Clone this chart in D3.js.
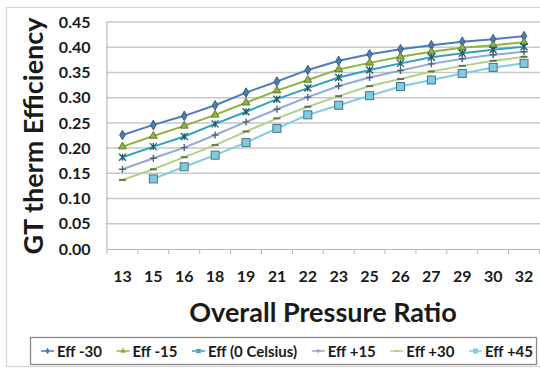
<!DOCTYPE html>
<html lang="en">
<head>
<meta charset="utf-8">
<title>GT therm Efficiency</title>
<script src="https://d3js.org/d3.v7.min.js"></script>
<style>
  body { margin: 0; background: #fff; }
  svg { font-family: Lato, "Open Sans", sans-serif; font-weight: bold; }
</style>
</head>
<body>
<div id="chart"></div>
<script>
// chart data
var ratios = ["13", "15", "16", "18", "19", "21", "22", "23", "25", "26", "27", "29", "30", "32"];
var yTicks = [0, 0.05, 0.10, 0.15, 0.20, 0.25, 0.30, 0.35, 0.40, 0.45];

var effM30 = [0.226, 0.246, 0.264, 0.285, 0.310, 0.332, 0.355, 0.373, 0.386, 0.396, 0.404, 0.411, 0.416, 0.422];
var effM15 = [0.203, 0.224, 0.244, 0.266, 0.290, 0.314, 0.335, 0.356, 0.369, 0.381, 0.391, 0.399, 0.404, 0.410];
var eff0   = [0.182, 0.203, 0.223, 0.248, 0.272, 0.297, 0.319, 0.340, 0.355, 0.368, 0.380, 0.388, 0.395, 0.401];
var effP15 = [0.158, 0.180, 0.201, 0.226, 0.252, 0.277, 0.301, 0.323, 0.340, 0.354, 0.367, 0.377, 0.385, 0.391];
var effP30 = [0.137, 0.158, 0.182, 0.206, 0.233, 0.259, 0.282, 0.303, 0.323, 0.337, 0.352, 0.363, 0.373, 0.381];
var effP45 = [null, 0.139, 0.163, 0.186, 0.211, 0.239, 0.266, 0.285, 0.304, 0.322, 0.335, 0.348, 0.360, 0.368];

var series = [
  {name: "Eff -30", values: effM30, color: "#4a7ebb", mark: "diamond"},
  {name: "Eff -15", values: effM15, color: "#8db43e", mark: "triangle"},
  {name: "Eff (0 Celsius)", values: eff0, color: "#31a2bd", mark: "star"},
  {name: "Eff +15", values: effP15, color: "#93a9dc", mark: "plus"},
  {name: "Eff +30", values: effP30, color: "#b0d287", mark: "dash"},
  {name: "Eff +45", values: effP45, color: "#7fcbe3", mark: "square"}
];

var W = 540, H = 370;
var svg = d3.select("#chart").append("svg").attr("width", W).attr("height", H);

// outer frame of the chart
svg.append("rect").attr("x", 6.5).attr("y", 7.5).attr("width", 545).attr("height", 359)
  .attr("fill", "#fff").attr("stroke", "#d4d4d4").attr("stroke-width", 1.2);

var x = d3.scaleBand().domain(ratios).range([107, 539.5]);
var y = d3.scaleLinear().domain([0, 0.45]).range([249, 22]);

// grid
svg.append("g").selectAll("line").data(yTicks.slice(1)).join("line")
  .attr("x1", 106).attr("x2", 540)
  .attr("y1", d => y(d)).attr("y2", d => y(d))
  .attr("stroke", "#c8c8c8").attr("stroke-width", 1.5);

// axes
var xAxis = d3.axisBottom(x).tickSize(0).tickPadding(22);
var gx = svg.append("g").attr("transform", "translate(0,249)").call(xAxis);
gx.select(".domain").attr("stroke", "#b8b8b8").attr("stroke-width", 1.2);
gx.selectAll("text").attr("font-size", 16).attr("font-family", "Lato").attr("font-weight", "bold").attr("fill", "#1a1a1a");
// tick marks sit between categories
gx.selectAll(".sep").data(ratios.concat(["end"])).join("line").attr("class", "sep")
  .attr("x1", (d, i) => x.range()[0] + i * x.step()).attr("x2", (d, i) => x.range()[0] + i * x.step())
  .attr("y1", 0).attr("y2", 5).attr("stroke", "#b8b8b8");

var yAxis = d3.axisLeft(y).tickValues(yTicks).tickFormat(d3.format(".2f")).tickSize(0).tickPadding(16);
var gy = svg.append("g").attr("transform", "translate(106.5,0)").call(yAxis);
gy.select(".domain").attr("stroke", "#b8b8b8").attr("stroke-width", 1.2);
gy.selectAll("text").attr("font-size", 16).attr("font-family", "Lato").attr("font-weight", "bold").attr("fill", "#1a1a1a");

// titles
svg.append("text").attr("x", 323).attr("y", 322).attr("text-anchor", "middle")
  .attr("font-size", 27).attr("fill", "#1a1a1a").text("Overall Pressure Ratio");
svg.append("text").attr("transform", "translate(43,136) rotate(-90)").attr("text-anchor", "middle")
  .attr("font-size", 27).attr("fill", "#1a1a1a").text("GT therm Efficiency");

// marker drawing
function drawMark(g, kind, color, s, legend) {
  var dark = legend ? color : d3.color(color).darker(1.6).formatHex();
  if (kind === "diamond") {
    g.append("path").attr("d", d3.symbol(d3.symbolDiamond, s * s * 0.55)())
      .attr("fill", color).attr("stroke", dark).attr("stroke-width", 0.8);
  } else if (kind === "triangle") {
    g.append("path").attr("d", d3.symbol(d3.symbolTriangle, s * s * 0.55)())
      .attr("fill", color).attr("stroke", dark).attr("stroke-width", 0.8);
  } else if (kind === "square") {
    g.append("rect").attr("x", -s / 2).attr("y", -s / 2).attr("width", s).attr("height", s)
      .attr("fill", color).attr("stroke", dark).attr("stroke-width", 1);
  } else if (kind === "plus") {
    var h = s / 2;
    g.append("path").attr("d", `M${-h},0H${h}M0,${-h}V${h}`).attr("stroke", dark).attr("stroke-width", 1.4);
  } else if (kind === "dash") {
    var h2 = s / 2;
    g.append("path").attr("d", `M${-h2},0H${h2}`).attr("stroke", dark).attr("stroke-width", 2);
  } else if (kind === "star") {
    var r = s / 2;
    g.append("path").attr("d", `M${-r},${-r}L${r},${r}M${-r},${r}L${r},${-r}M0,${-r}V${r}`)
      .attr("stroke", dark).attr("stroke-width", 1.3);
  }
}

var line = d3.line()
  .defined(d => d != null)
  .x((d, i) => x(ratios[i]) + x.bandwidth() / 2)
  .y(d => y(d));

series.forEach(function (s) {
  svg.append("path").datum(s.values).attr("d", line)
    .attr("fill", "none").attr("stroke", s.color).attr("stroke-width", 2);
});
series.forEach(function (s) {
  s.values.forEach(function (v, i) {
    if (v == null) return;
    var g = svg.append("g").attr("transform", `translate(${x(ratios[i]) + x.bandwidth() / 2},${y(v)})`);
    drawMark(g, s.mark, s.color, s.mark === "square" ? 8 : 7, false);
  });
});

// legend: items spread so the row runs from 41 to 533
svg.append("rect").attr("x", 30.5).attr("y", 337.5).attr("width", 506).attr("height", 27)
  .attr("fill", "#fff").attr("stroke", "#8a8a8a").attr("stroke-width", 1.3);
var items = series.map(function (s) {
  var g = svg.append("g");
  g.append("line").attr("x1", 0).attr("x2", 13).attr("stroke", s.color).attr("stroke-width", 1.5);
  var m = g.append("g").attr("transform", "translate(6.5,0)");
  drawMark(m, s.mark, s.color, 4, true);
  var t = g.append("text").attr("x", 16).attr("y", 5.5).attr("font-size", 15).attr("fill", "#1a1a1a").text(s.name);
  return {g: g, w: 16 + t.node().getComputedTextLength()};
});
var total = d3.sum(items, d => d.w);
var gap = (533 - 41 - total) / (items.length - 1);
var lx = 41;
items.forEach(function (it) {
  it.g.attr("transform", `translate(${lx},351)`);
  lx += it.w + gap;
});
</script>
</body>
</html>
